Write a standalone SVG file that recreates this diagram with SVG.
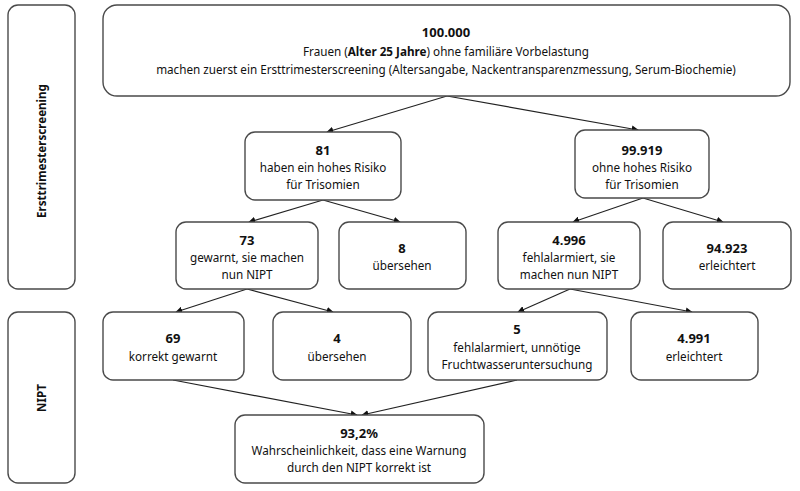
<svg xmlns="http://www.w3.org/2000/svg" width="800" height="491" viewBox="0 0 800 491">
<defs>
<style>
.box{fill:#fff;stroke:#4a4a4a;stroke-width:1.4}
text{font-family:"Noto Sans","Liberation Sans",sans-serif;font-size:11.7px;fill:#111;text-anchor:middle}
.b{font-weight:bold;font-size:13px}
.side{font-weight:bold;font-size:11.6px}
.con line{stroke:#222;stroke-width:1.2;marker-end:url(#ah)}
</style>
<marker id="ah" viewBox="0 0 10 10" refX="9" refY="5" markerWidth="7" markerHeight="7" markerUnits="userSpaceOnUse" orient="auto">
<path d="M0,0 L10,5 L0,10 z" fill="#111"/>
</marker>
</defs>
<rect width="800" height="491" fill="#fff"/>
<g id="side-erst"><rect class="box" x="8" y="5" width="67" height="284" rx="10"/><text class="side" transform="translate(46,151) rotate(-90)">Ersttrimesterscreening</text></g>
<g id="side-nipt"><rect class="box" x="8" y="312" width="67" height="171" rx="10"/><text class="side" transform="translate(46,398) rotate(-90)">NIPT</text></g>
<g class="con" id="connectors">
<line x1="447" y1="96" x2="327" y2="132"/>
<line x1="447" y1="96" x2="638" y2="130"/>
<line x1="323" y1="200" x2="249" y2="222"/>
<line x1="323" y1="200" x2="400" y2="222"/>
<line x1="643" y1="198" x2="573" y2="222"/>
<line x1="643" y1="198" x2="723" y2="222"/>
<line x1="247" y1="289" x2="176" y2="312"/>
<line x1="247" y1="289" x2="333" y2="312"/>
<line x1="570" y1="289" x2="518" y2="312"/>
<line x1="570" y1="289" x2="692" y2="312"/>
<line x1="173" y1="380" x2="357" y2="415"/>
<line x1="517" y1="380" x2="362" y2="415"/>
</g>
<g id="n-top"><rect class="box" x="103" y="5" width="687" height="91" rx="14"/>
<text class="b" x="446" y="37">100.000</text>
<text x="446" y="56">Frauen (<tspan font-weight="bold">Alter 25 Jahre</tspan>) ohne familiäre Vorbelastung</text>
<text x="446" y="74">machen zuerst ein Ersttrimesterscreening (Altersangabe, Nackentransparenzmessung, Serum-Biochemie)</text></g>
<g id="n-81"><rect class="box" x="245" y="132" width="156" height="68" rx="10"/>
<text class="b" x="323" y="155">81</text><text x="323" y="172">haben ein hohes Risiko</text><text x="323" y="189">für Trisomien</text></g>
<g id="n-99919"><rect class="box" x="575" y="130" width="134" height="68" rx="10"/>
<text class="b" x="642" y="155">99.919</text><text x="642" y="172">ohne hohes Risiko</text><text x="642" y="189">für Trisomien</text></g>
<g id="n-73"><rect class="box" x="176" y="222" width="142" height="67" rx="10"/>
<text class="b" x="247" y="245">73</text><text x="247" y="262">gewarnt, sie machen</text><text x="247" y="279">nun NIPT</text></g>
<g id="n-8"><rect class="box" x="339" y="222" width="127" height="67" rx="10"/>
<text class="b" x="402" y="253">8</text><text x="402" y="270">übersehen</text></g>
<g id="n-4996"><rect class="box" x="498" y="222" width="142" height="67" rx="10"/>
<text class="b" x="569" y="245">4.996</text><text x="569" y="262">fehlalarmiert, sie</text><text x="569" y="279">machen nun NIPT</text></g>
<g id="n-94923"><rect class="box" x="663" y="222" width="128" height="67" rx="10"/>
<text class="b" x="727" y="253">94.923</text><text x="727" y="270">erleichtert</text></g>
<g id="n-69"><rect class="box" x="103" y="312" width="141" height="68" rx="10"/>
<text class="b" x="173" y="343">69</text><text x="173" y="361">korrekt gewarnt</text></g>
<g id="n-4"><rect class="box" x="273" y="312" width="138" height="68" rx="10"/>
<text class="b" x="337" y="343">4</text><text x="337" y="361">übersehen</text></g>
<g id="n-5"><rect class="box" x="428" y="312" width="179" height="68" rx="10"/>
<text class="b" x="517" y="334">5</text><text x="517" y="352">fehlalarmiert, unnötige</text><text x="517" y="369">Fruchtwasseruntersuchung</text></g>
<g id="n-4991"><rect class="box" x="631" y="312" width="127" height="68" rx="10"/>
<text class="b" x="694" y="343">4.991</text><text x="694" y="361">erleichtert</text></g>
<g id="n-932"><rect class="box" x="235" y="415" width="249" height="68" rx="10"/>
<text class="b" x="359" y="438">93,2%</text><text x="359" y="455">Wahrscheinlichkeit, dass eine Warnung</text><text x="359" y="472">durch den NIPT korrekt ist</text></g>
</svg>
